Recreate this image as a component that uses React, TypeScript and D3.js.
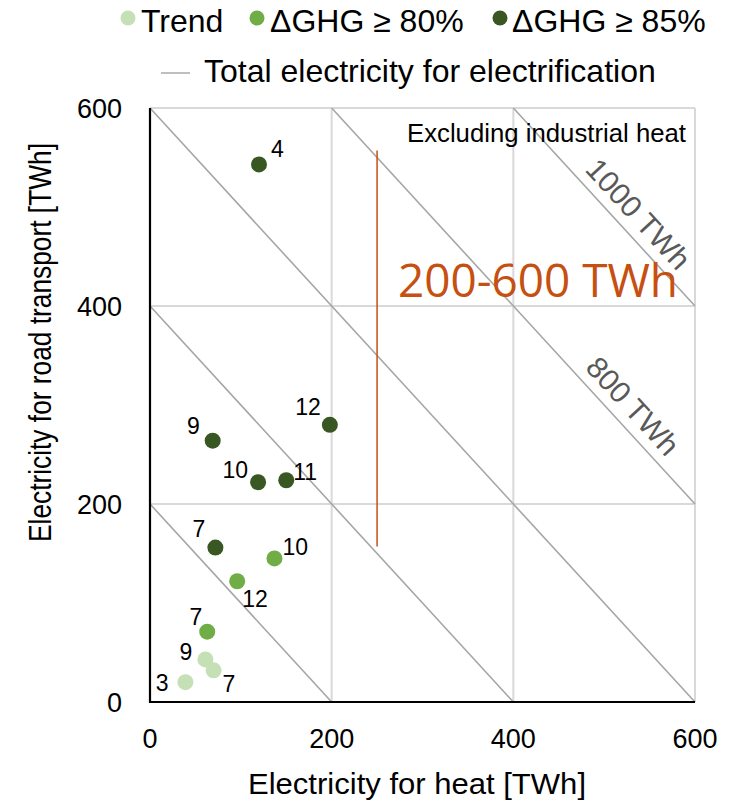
import * as d3 from 'd3';

// series values [TWh]: heat (x) vs road transport (y)
const trendX = [39, 61, 70];
const trendY = [20, 43, 32];
const trendLabels = ['3', '9', '7'];

const ghg80X = [63, 96, 137];
const ghg80Y = [71, 122, 145];
const ghg80Labels = ['7', '12', '10'];

const ghg85X = [72, 69, 119, 150, 198, 120];
const ghg85Y = [156, 264, 222, 224, 280, 543];
const ghg85Labels = ['7', '9', '10', '11', '12', '4'];

const ticks = [0, 200, 400, 600];
const totals = [200, 400, 600, 800, 1000];
const totalLabelTotals = [800, 1000];
const totalLabelAtX = [515, 521];

const rangeX = 250;
const rangeY = [157, 557];

// label placement (pixels): [anchor, dx, dy]
const trendOffsets: [string, number, number][] = [['end', -17, 9], ['end', -13, 1], ['start', 9, 22]];
const ghg80Offsets: [string, number, number][] = [['end', -5, -7], ['start', 5, 26], ['start', 8, -3]];
const ghg85Offsets: [string, number, number][] = [
  ['end', -10, -11], ['end', -13, -7], ['end', -10, -4], ['start', 7, 0], ['end', -9, -10], ['start', 12, -7],
];

const FONT = 'Liberation Sans, Arial, sans-serif';
const LIGHT = '#C5E0B4';
const MID = '#70AD47';
const DARK = '#385723';
const ORANGE = '#C64F12';

export default function App() {
  const x = d3.scaleLinear().domain([0, 600]).range([150, 695]);
  const y = d3.scaleLinear().domain([0, 600]).range([702, 108]);

  const series = [
    { xs: trendX, ys: trendY, labels: trendLabels, offs: trendOffsets, color: LIGHT },
    { xs: ghg80X, ys: ghg80Y, labels: ghg80Labels, offs: ghg80Offsets, color: MID },
    { xs: ghg85X, ys: ghg85Y, labels: ghg85Labels, offs: ghg85Offsets, color: DARK },
  ];

  const diag = d3.line<[number, number]>().x(d => x(d[0])).y(d => y(d[1]));
  const angle = (Math.atan2(y(0) - y(600), x(600) - x(0)) * 180) / Math.PI;

  return (
    <svg width={733} height={802} style={{ position: 'absolute', left: 0, top: 0, background: '#fff' }} fontFamily={FONT}>
      {/* legend */}
      <g fontSize={32} fill="#000">
        <circle cx={128} cy={18} r={7.5} fill={LIGHT} />
        <text x={141} y={32}>Trend</text>
        <circle cx={257} cy={18} r={7.5} fill={MID} />
        <text x={270} y={32}>ΔGHG ≥ 80%</text>
        <circle cx={500} cy={18} r={7.5} fill={DARK} />
        <text x={512} y={32}>ΔGHG ≥ 85%</text>
        <line x1={161} x2={190} y1={73} y2={73} stroke="#BFBFBF" strokeWidth={2} />
        <text x={204} y={82}>Total electricity for electrification</text>
      </g>

      {/* grid */}
      {ticks.slice(1).map(t => (
        <g key={t}>
          <line x1={x(t)} x2={x(t)} y1={y(0)} y2={y(600)} stroke="#D9D9D9" strokeWidth={2} />
          <line x1={x(0)} x2={x(600)} y1={y(t)} y2={y(t)} stroke="#D9D9D9" strokeWidth={2} />
        </g>
      ))}

      {/* total electricity diagonals */}
      {totals.map(T => {
        const x0 = Math.max(0, T - 600);
        const x1 = Math.min(600, T);
        return <path key={T} d={diag([[x0, T - x0], [x1, T - x1]]) ?? ''} stroke="#A6A6A6" strokeWidth={1.6} fill="none" />;
      })}
      {totalLabelTotals.map((T, i) => (
        <g key={T} transform={`translate(${x(totalLabelAtX[i])},${y(T - totalLabelAtX[i])}) rotate(${angle})`}>
          <text y={-10} textAnchor="middle" fontSize={30} fill="#595959">{`${T} TWh`}</text>
        </g>
      ))}

      {/* axes */}
      <line x1={x(0)} x2={x(0)} y1={y(0) + 1} y2={y(600)} stroke="#000" strokeWidth={2.2} />
      <line x1={x(0) - 1} x2={x(600)} y1={y(0)} y2={y(0)} stroke="#000" strokeWidth={2.2} />
      <g fontSize={27} fill="#000">
        {ticks.map(t => (
          <text key={'y' + t} x={122} y={y(t) + 9.5} textAnchor="end">{t}</text>
        ))}
        {ticks.map(t => (
          <text key={'x' + t} x={x(t)} y={748} textAnchor="middle">{t}</text>
        ))}
      </g>
      <text x={417} y={794} fontSize={29} textAnchor="middle" textLength={338} lengthAdjust="spacingAndGlyphs">
        Electricity for heat [TWh]
      </text>
      <text
        transform="translate(51,342.5) rotate(-90)"
        fontSize={31}
        textAnchor="middle"
        textLength={399}
        lengthAdjust="spacingAndGlyphs"
      >
        Electricity for road transport [TWh]
      </text>

      <text x={x(600) - 9} y={y(600) + 34} fontSize={25} textAnchor="end" textLength={279} lengthAdjust="spacingAndGlyphs">
        Excluding industrial heat
      </text>

      {/* range annotation */}
      <line x1={x(rangeX)} x2={x(rangeX)} y1={y(rangeY[0])} y2={y(rangeY[1])} stroke={ORANGE} strokeWidth={1.5} />
      <text x={398} y={297} fontSize={46} fontFamily="Open Sans, sans-serif" fill={ORANGE} textLength={280} lengthAdjust="spacingAndGlyphs">
        200-600 TWh
      </text>

      {/* points */}
      {series.map((s, si) => (
        <g key={si}>
          {s.xs.map((v, i) => (
            <g key={i}>
              <circle cx={x(v)} cy={y(s.ys[i])} r={8} fill={s.color} />
              <text
                x={x(v) + s.offs[i][1]}
                y={y(s.ys[i]) + s.offs[i][2]}
                textAnchor={s.offs[i][0]}
                fontSize={23}
                fill="#000"
              >
                {s.labels[i]}
              </text>
            </g>
          ))}
        </g>
      ))}
    </svg>
  );
}
